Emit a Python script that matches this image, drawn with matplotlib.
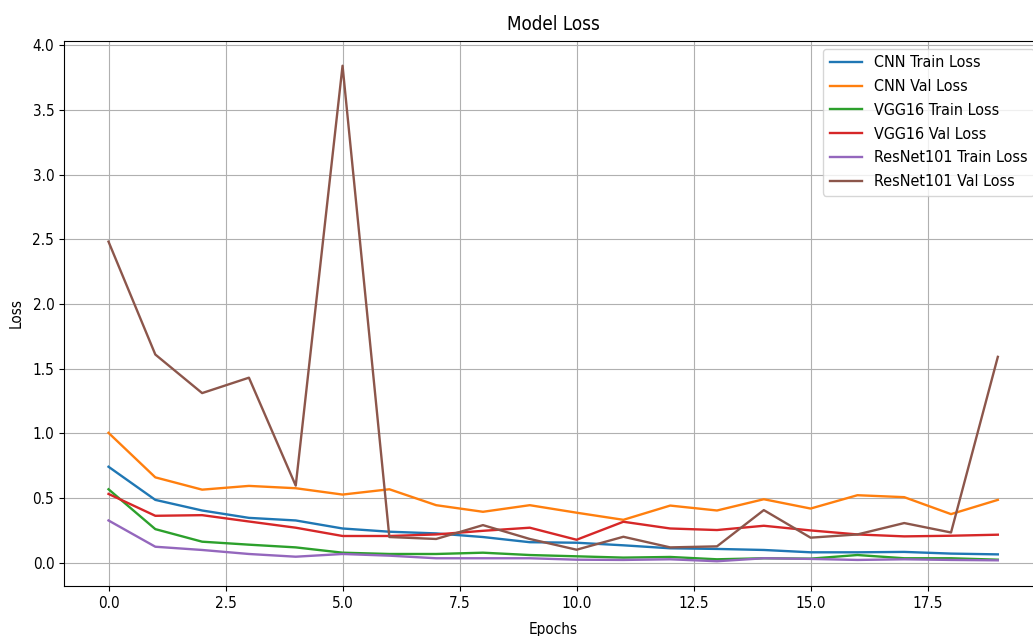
import matplotlib
matplotlib.use("Agg")
import matplotlib.pyplot as plt

plt.rcParams['font.family'] = ['DejaVu Sans']
plt.rcParams['font.stretch'] = 'condensed'
plt.rcParams['font.size'] = 11

epochs = list(range(20))

cnn_train = [0.743, 0.487, 0.405, 0.348, 0.328, 0.266, 0.241, 0.228, 0.200, 0.160,
             0.156, 0.136, 0.113, 0.108, 0.100, 0.082, 0.082, 0.085, 0.072, 0.066]
cnn_val = [1.005, 0.661, 0.566, 0.595, 0.577, 0.528, 0.569, 0.446, 0.395, 0.446,
           0.388, 0.333, 0.443, 0.405, 0.492, 0.420, 0.523, 0.508, 0.377, 0.487]
vgg_train = [0.569, 0.261, 0.164, 0.141, 0.120, 0.079, 0.069, 0.069, 0.079, 0.061,
             0.051, 0.041, 0.046, 0.028, 0.036, 0.033, 0.061, 0.036, 0.036, 0.025]
vgg_val = [0.533, 0.364, 0.369, 0.320, 0.272, 0.208, 0.208, 0.220, 0.248, 0.272,
           0.179, 0.318, 0.266, 0.254, 0.287, 0.251, 0.220, 0.205, 0.210, 0.218]
resnet_train = [0.328, 0.125, 0.100, 0.069, 0.048, 0.069, 0.056, 0.036, 0.036, 0.036,
                0.025, 0.023, 0.028, 0.013, 0.036, 0.031, 0.023, 0.028, 0.023, 0.020]
resnet_val = [2.482, 1.610, 1.312, 1.431, 0.597, 3.841, 0.200, 0.185, 0.292, 0.185,
              0.102, 0.202, 0.120, 0.128, 0.408, 0.195, 0.220, 0.308, 0.235, 1.592]

fig = plt.figure(figsize=(10.33, 6.36), dpi=100)
ax = fig.add_axes([0.062, 0.0786, 0.947, 0.857])

ax.plot(epochs, cnn_train, lw=1.7, label='CNN Train Loss')
ax.plot(epochs, cnn_val, lw=1.7, label='CNN Val Loss')
ax.plot(epochs, vgg_train, lw=1.7, label='VGG16 Train Loss')
ax.plot(epochs, vgg_val, lw=1.7, label='VGG16 Val Loss')
ax.plot(epochs, resnet_train, lw=1.7, label='ResNet101 Train Loss')
ax.plot(epochs, resnet_val, lw=1.7, label='ResNet101 Val Loss')

ax.set_title('Model Loss', fontsize=13.5, pad=8)
ax.set_xlabel('Epochs', labelpad=8)
ax.set_ylabel('Loss', labelpad=6)
ax.grid(True)
ax.legend(loc='upper right', fontsize=11.5, labelspacing=0.55)

fig.savefig('out.png', dpi=100)
